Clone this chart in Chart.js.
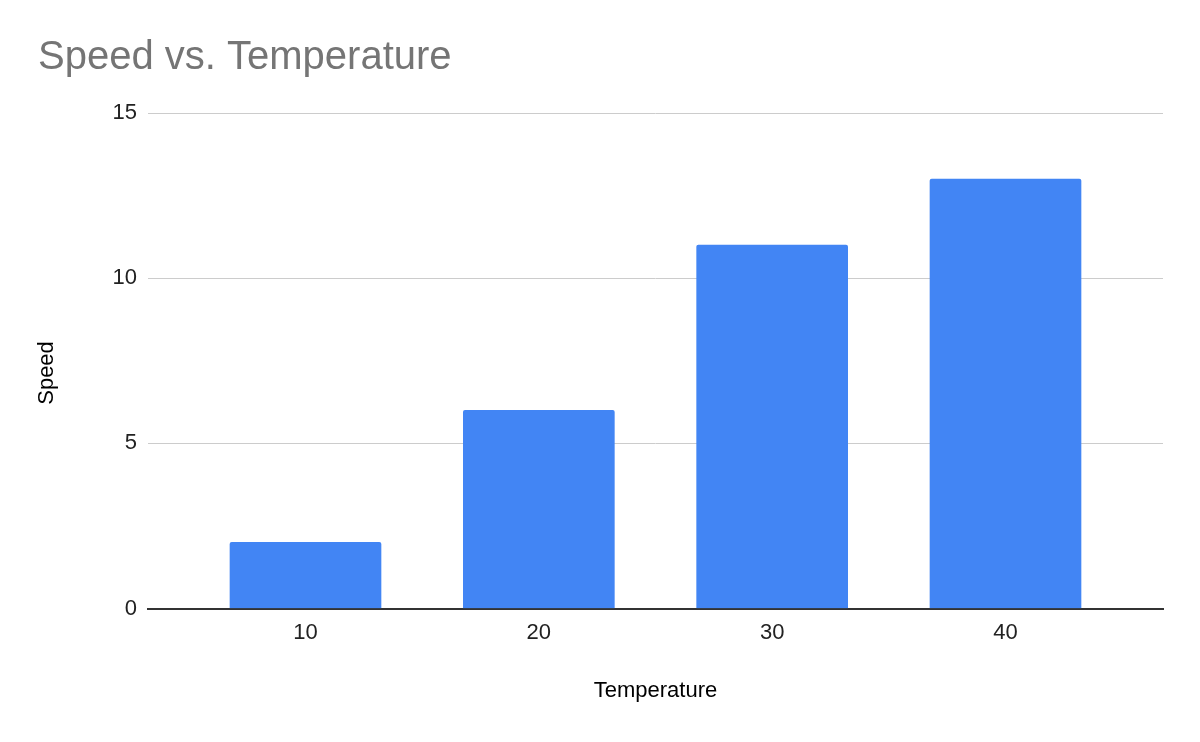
<!DOCTYPE html>
<html>
<head>
<meta charset="utf-8">
<script src="https://cdn.jsdelivr.net/npm/chart.js@4.4.1/dist/chart.umd.min.js"></script>
<style>
    html, body { margin: 0; padding: 0; background: #ffffff; }
    #wrap { width: 1200px; height: 742px; }
</style>
</head>
<body>
<div id="wrap"><canvas id="speedChart"></canvas></div>
<script>
// Chart data
const temperatures = [10, 20, 30, 40];
const speeds = [2, 6, 11, 13];
const speedTicks = [0, 5, 10, 15];

const FONT = '"Liberation Sans", Arial, sans-serif';

document.addEventListener('DOMContentLoaded', function() {
    initializeChart();
});

function initializeChart() {
    const ctx = document.getElementById('speedChart');
    const points = temperatures.map((t, i) => ({ x: t, y: speeds[i] }));

    new Chart(ctx, {
        type: 'bar',
        data: {
            datasets: [{
                label: 'Speed',
                data: points,
                backgroundColor: '#4285F4',
                borderRadius: { topLeft: 2, topRight: 2, bottomLeft: 0, bottomRight: 0 },
                borderSkipped: 'start',
                barThickness: 151
            }]
        },
        options: {
            responsive: true,
            maintainAspectRatio: false,
            animation: false,
            layout: { padding: { left: 38, right: 37, top: 0, bottom: 34 } },
            plugins: {
                legend: { display: false },
                tooltip: { enabled: false },
                title: {
                    display: true,
                    text: 'Speed vs. Temperature',
                    align: 'start',
                    color: '#757575',
                    font: { family: FONT, size: 40, weight: 'normal', lineHeight: 1.2 },
                    padding: { top: 34, bottom: 31 }
                }
            },
            scales: {
                x: {
                    type: 'linear',
                    offset: false,
                    min: 3.25,
                    max: 46.75,
                    afterBuildTicks: function(scale) {
                        scale.ticks = temperatures.map(v => ({ value: v }));
                    },
                    afterFit: function(scale) {
                        scale.height = 742 - 34 - 608.5;
                    },
                    grid: { display: false, drawTicks: false, offset: false },
                    border: { display: true, color: '#333333', width: 2 },
                    ticks: {
                        color: '#222222',
                        padding: 11,
                        font: { family: FONT, size: 22 },
                        callback: v => String(v)
                    },
                    title: {
                        display: true,
                        text: 'Temperature',
                        color: '#000000',
                        font: { family: FONT, size: 22, lineHeight: 1.2 },
                        padding: 4
                    }
                },
                y: {
                    min: 0,
                    max: 15,
                    afterBuildTicks: function(scale) {
                        scale.ticks = speedTicks.map(v => ({ value: v }));
                    },
                    afterFit: function(scale) {
                        scale.width = 148 - 38;
                    },
                    grid: { color: '#cccccc', lineWidth: 1, drawTicks: false },
                    border: { display: false },
                    ticks: {
                        color: '#222222',
                        padding: 11,
                        font: { family: FONT, size: 22 }
                    },
                    title: {
                        display: true,
                        text: 'Speed    ',
                        color: '#000000',
                        font: { family: FONT, size: 22, lineHeight: 0.6 },
                        padding: 2.5
                    }
                }
            }
        }
    });
}
</script>
</body>
</html>
